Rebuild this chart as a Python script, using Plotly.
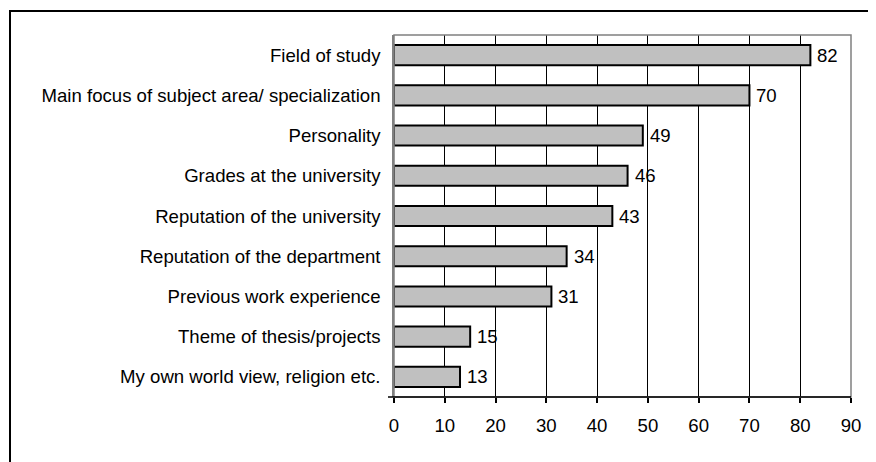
import plotly.graph_objects as go

categories = [
    "Field of study",
    "Main focus of subject area/ specialization",
    "Personality",
    "Grades at the university",
    "Reputation of the university",
    "Reputation of the department",
    "Previous work experience",
    "Theme of thesis/projects",
    "My own world view, religion etc.",
]
values = [82, 70, 49, 46, 43, 34, 31, 15, 13]
x_ticks = [0, 10, 20, 30, 40, 50, 60, 70, 80, 90]

# the page body has an 8px default margin, so work in page pixels and offset
OFF = 8
W, H = 876 - OFF, 462 - OFF
L, R, T, B = 394 - OFF, 25, 35 - OFF, 65
pw, ph = W - L - R, H - T - B
FONT = 18.6


def px_x(p):
    return (p - OFF - L) / pw


def px_y(p):
    return (H - B - (p - OFF)) / ph


fig = go.Figure(
    go.Bar(
        x=values,
        y=categories,
        orientation="h",
        marker=dict(color="#c0c0c0", line=dict(color="black", width=2)),
        width=0.5,
    )
)

for cat, val in zip(categories, values):
    fig.add_annotation(
        x=val, y=cat, text=str(val), showarrow=False,
        xanchor="left", xshift=5, font=dict(size=FONT, color="black"),
    )

fig.update_layout(
    width=W,
    height=H,
    margin=dict(l=L, r=R, t=T, b=B),
    paper_bgcolor="white",
    plot_bgcolor="white",
    font=dict(family="Liberation Sans, Arial", size=FONT, color="black"),
    showlegend=False,
    shapes=[
        # outer frame (runs off the right and bottom edges)
        dict(type="rect", xref="paper", yref="paper",
             x0=px_x(10), x1=px_x(900), y0=px_y(490), y1=px_y(11),
             line=dict(color="black", width=2)),
        # plot area border
        dict(type="rect", xref="paper", yref="paper", x0=0, x1=1, y0=0, y1=1,
             line=dict(color="#808080", width=1.5), layer="above"),
        # category axis line and bottom tick
        dict(type="line", xref="paper", yref="paper",
             x0=px_x(388), x1=1, y0=0, y1=0,
             line=dict(color="black", width=1.5), layer="above"),
    ],
)

fig.update_xaxes(
    range=[0, 90],
    tickvals=x_ticks,
    showgrid=True,
    gridcolor="black",
    gridwidth=1,
    zeroline=False,
    showline=False,
    ticks="outside",
    ticklen=5,
    tickcolor="black",
    tickwidth=1.5,
    ticklabelstandoff=7,
    fixedrange=True,
)
fig.update_yaxes(
    categoryorder="array",
    categoryarray=categories,
    autorange="reversed",
    showgrid=False,
    showline=True,
    linecolor="#808080",
    linewidth=1.5,
    ticks="",
    ticklabelstandoff=8,
    fixedrange=True,
)

fig.write_html("out.html")
